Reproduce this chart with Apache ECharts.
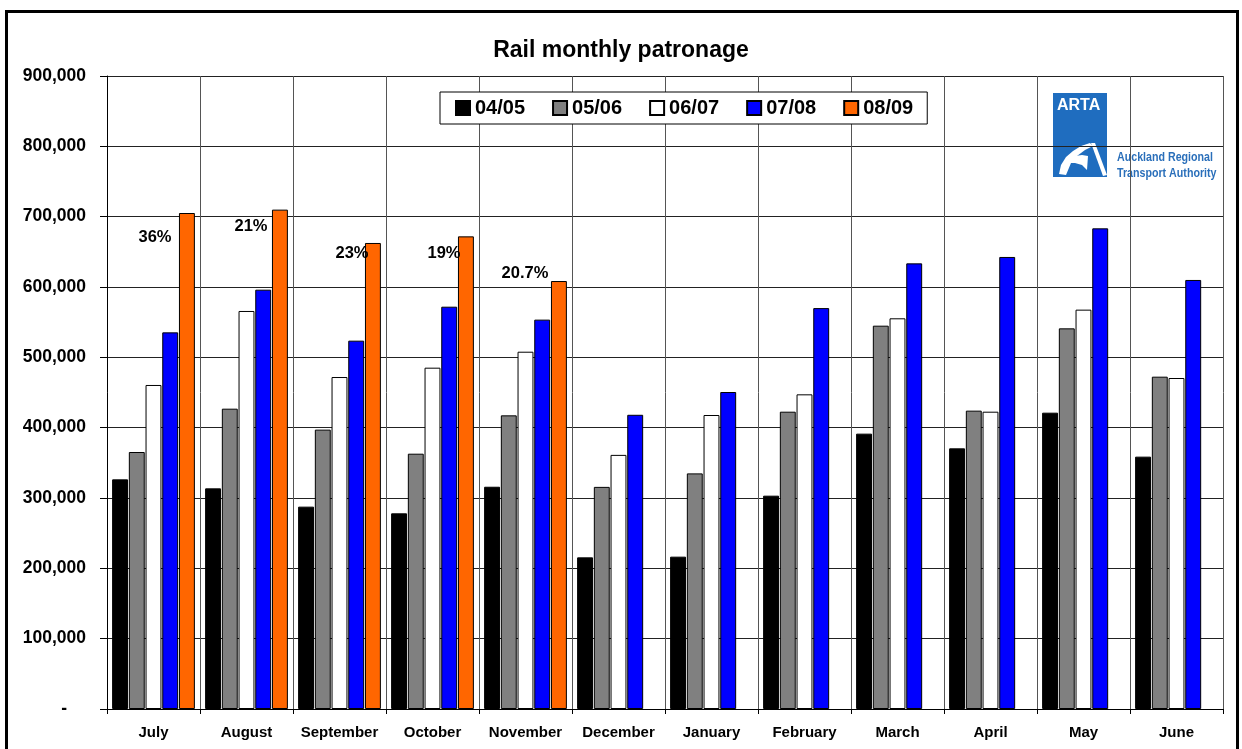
<!DOCTYPE html>
<html>
<head>
<meta charset="utf-8">
<title>Rail monthly patronage</title>
<script src="https://cdn.jsdelivr.net/npm/echarts@6/dist/echarts.min.js"></script>
<style>
  html, body { margin: 0; padding: 0; background: #fff; }
  #chart { width: 1242px; height: 749px; }
</style>
</head>
<body>
<div id="chart"></div>
<script>
// Monthly rail boardings by financial year (July to June)
const months = ['July', 'August', 'September', 'October', 'November', 'December',
                'January', 'February', 'March', 'April', 'May', 'June'];
const seasons = ['04/05', '05/06', '06/07', '07/08', '08/09'];

const rail0405 = [326500, 313700, 287700, 278200, 316000, 215600, 216600, 303300, 391500, 370600, 421300, 358800];
const rail0506 = [365400, 427000, 397200, 363000, 417500, 315800, 335000, 422700, 545000, 424200, 541200, 472500];
const rail0607 = [460700, 565900, 472000, 485300, 508000, 361300, 418000, 447400, 555500, 422700, 567800, 470600];
const rail0708 = [535500, 596200, 523700, 572000, 553600, 418300, 450700, 570000, 633600, 642700, 683400, 610000];
const rail0809 = [705200, 710000, 662600, 672000, 608500, null, null, null, null, null, null, null];

// Year-on-year growth notes beside the 08/09 bars
const growthLabels = ['36%', '21%', '23%', '19%', '20.7%'];

const yTickLabels = ['-', '100,000', '200,000', '300,000', '400,000',
                     '500,000', '600,000', '700,000', '800,000', '900,000'];

const seriesColors = ['#000000', '#808080', '#ffffff', '#0000ff', '#ff6600'];
const seriesValues = [rail0405, rail0506, rail0607, rail0708, rail0809];

const FONT = '"Liberation Sans", Arial, Helvetica, sans-serif';

// where each growth note sits relative to its bar's top-left corner
const noteOffsets = [[-24, 24], [-21, 17], [-13, 10], [-14, 17], [-26, -8]];

const series = seasons.map((name, s) => ({
  name: name,
  type: 'bar',
  barGap: '5%',
  barCategoryGap: '11%',
  itemStyle: { color: seriesColors[s], borderColor: '#000', borderWidth: 1 },
  emphasis: { disabled: true },
  data: seriesValues[s].map((v, i) => {
    if (s === 4 && v != null && growthLabels[i]) {
      return {
        value: v,
        label: {
          show: true,
          formatter: growthLabels[i],
          position: noteOffsets[i],
          align: 'center',
          verticalAlign: 'middle',
          fontFamily: FONT,
          fontWeight: 'bold',
          fontSize: 16.5,
          color: '#000'
        }
      };
    }
    return v;
  })
}));

const chart = echarts.init(document.getElementById('chart'), null, { renderer: 'canvas' });

const logoText = (text, y) => ({
  type: 'text', x: 1117, y: y, scaleX: 0.82,
  style: { text: text, fill: '#2a6fba', font: 'bold 13px ' + FONT }
});

chart.setOption({
  animation: false,
  backgroundColor: '#fff',
  title: {
    text: 'Rail monthly patronage',
    left: 'center',
    top: 34,
    textStyle: { fontFamily: FONT, fontWeight: 'bold', fontSize: 23, color: '#000' }
  },
  legend: {
    data: seasons,
    left: 440,
    top: 92,
    orient: 'horizontal',
    padding: [6, 14, 6, 15],
    itemGap: 27,
    itemWidth: 14,
    itemHeight: 14,
    icon: 'rect',
    backgroundColor: '#fff',
    borderColor: '#000',
    borderWidth: 1,
    textStyle: { fontFamily: FONT, fontWeight: 'bold', fontSize: 20, color: '#000' }
  },
  grid: { left: 107, right: 19, top: 76, bottom: 40, containLabel: false },
  xAxis: {
    type: 'category',
    data: months,
    boundaryGap: true,
    axisLine: { show: true, lineStyle: { color: '#000', width: 1 } },
    axisTick: { show: true, interval: 0, length: 5, inside: false, lineStyle: { color: '#000' } },
    splitLine: { show: true, interval: 0, lineStyle: { color: '#555', width: 1 } },
    axisLabel: {
      interval: 0,
      margin: 16,
      fontFamily: FONT, fontWeight: 'bold', fontSize: 15, color: '#000'
    }
  },
  yAxis: {
    type: 'value',
    min: 0,
    max: 900000,
    interval: 100000,
    axisLine: { show: true, lineStyle: { color: '#000', width: 1 } },
    axisTick: { show: true, length: 7, lineStyle: { color: '#000' } },
    splitLine: { show: true, lineStyle: { color: '#222', width: 1 } },
    axisLabel: {
      margin: 21,
      fontFamily: FONT, fontWeight: 'bold', fontSize: 17.5, color: '#000',
      formatter: (v) => {
        const idx = Math.round(v / 100000);
        return idx === 0 ? '{dash|' + yTickLabels[0] + '}' : yTickLabels[idx];
      },
      rich: {
        dash: { fontFamily: FONT, fontWeight: 'bold', fontSize: 17.5, color: '#000', padding: [0, 19, 0, 0] }
      }
    }
  },
  series: series,
  graphic: [
    // outer chart frame
    {
      type: 'rect', z: 100, silent: true,
      shape: { x: 6.5, y: 11.5, width: 1231, height: 760 },
      style: { fill: null, stroke: '#000', lineWidth: 3 }
    },
    // ARTA logo panel
    {
      type: 'group', z: 90, silent: true,
      children: [
        { type: 'rect', shape: { x: 1035, y: 78, width: 191, height: 117 }, style: { fill: '#fff' } },
        { type: 'rect', shape: { x: 1053, y: 93, width: 54, height: 84 }, style: { fill: '#1f6dbf' } },
        {
          type: 'text', x: 1057, y: 98,
          style: { text: 'ARTA', fill: '#fff', font: 'bold 16px ' + FONT }
        },
        {
          type: 'polygon',
          shape: { points: [[1059, 174], [1061, 165], [1066, 157], [1073, 151], [1081, 146], [1090, 143],
                            [1093, 146], [1085, 150], [1077, 156], [1071, 163], [1066, 175]] },
          style: { fill: '#fff' }
        },
        {
          type: 'polygon',
          shape: { points: [[1091, 143], [1095, 143], [1107, 175], [1103, 176]] },
          style: { fill: '#fff' }
        },
        {
          type: 'polygon',
          shape: { points: [[1062, 164], [1068, 159], [1075, 156], [1082, 155], [1088, 156], [1087, 170],
                            [1082, 165], [1075, 163], [1068, 163]] },
          style: { fill: '#fff' }
        },
        logoText('Auckland Regional', 151),
        logoText('Transport Authority', 167)
      ]
    }
  ]
});
</script>
</body>
</html>
